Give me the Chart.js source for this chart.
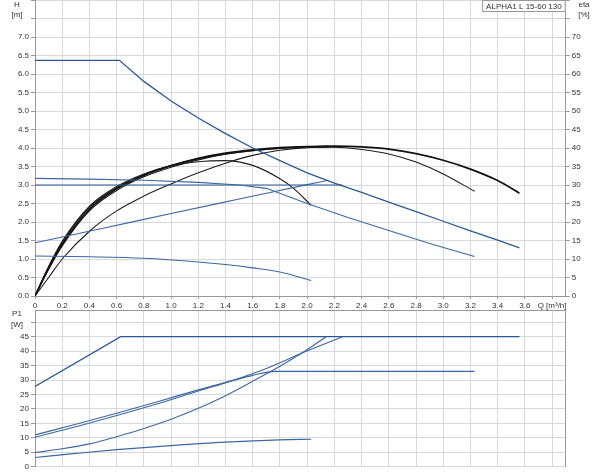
<!DOCTYPE html>
<html>
<head>
<meta charset="utf-8">
<script src="https://cdn.jsdelivr.net/npm/chart.js@4.4.1/dist/chart.umd.min.js"></script>
<style>
  html, body { margin: 0; padding: 0; background: #fff; }
  #wrap { position: relative; width: 600px; height: 474px; overflow: hidden; }
  #top { position: absolute; left: 0; top: 0; }
  #bot { position: absolute; left: 0; top: 300px; }
</style>
</head>
<body>
<div id="wrap">
  <canvas id="top" width="600" height="312" style="width:600px;height:312px"></canvas>
  <canvas id="bot" width="600" height="174" style="width:600px;height:174px"></canvas>
</div>
<script>
/* ── Data (Q in m³/h) ── */
const TITLE = 'ALPHA1 L 15-60 130';

// H [m] curves
const hMaxQ  = [0, 0.62, 0.8, 1.0, 1.2, 1.4, 1.6, 1.8, 2.0, 2.2, 2.4, 2.6, 2.8, 3.0, 3.2, 3.4, 3.56];
const hMaxH  = [6.37, 6.37, 5.80, 5.27, 4.81, 4.39, 4.00, 3.66, 3.33, 3.05, 2.80, 2.54, 2.28, 2.02, 1.76, 1.51, 1.30];
const h32Q   = [0, 0.4, 0.8, 1.2, 1.5, 1.7, 2.0, 2.3, 2.6, 2.9, 3.23];
const h32H   = [3.18, 3.16, 3.13, 3.07, 3.00, 2.91, 2.50, 2.12, 1.77, 1.42, 1.07];
const hCpQ   = [0, 2.26];
const hCpH   = [3.0, 3.0];
const hPpQ   = [0, 0.5, 1.0, 1.5, 2.0, 2.155];
const hPpH   = [1.44, 1.83, 2.23, 2.62, 3.01, 3.13];
const hLowQ  = [0, 0.4, 0.8, 1.2, 1.4, 1.6, 1.8, 2.03];
const hLowH  = [1.08, 1.06, 1.02, 0.92, 0.85, 0.76, 0.65, 0.42];

// eta [%] curves
const etaMaxQ = [0, 0.1, 0.2, 0.4, 0.6, 0.8, 1.0, 1.2, 1.4, 1.6, 1.8, 2.0, 2.2, 2.4, 2.6, 2.8, 3.0, 3.2, 3.4, 3.56];
const etaMax  = [0, 7.5, 14, 23.5, 29, 32.6, 35.2, 37.2, 38.6, 39.5, 40.1, 40.4, 40.5, 40.3, 39.7, 38.5, 36.7, 34.3, 31.2, 27.8];
const eta32Q  = [0, 0.1, 0.2, 0.4, 0.6, 0.8, 1.0, 1.2, 1.4, 1.6, 1.8, 2.0, 2.2, 2.4, 2.6, 2.8, 3.0, 3.23];
const eta32   = [0, 5, 10, 17.5, 23, 27, 30.3, 33.3, 35.9, 38.0, 39.4, 40.1, 40.2, 39.6, 38.4, 36.2, 33, 28.3];
const etaCpQ  = [0, 0.1, 0.2, 0.4, 0.6, 0.8, 1.0, 1.2, 1.4, 1.6, 1.8, 2.0, 2.26];
const etaCp   = [0, 7.2, 13.5, 23, 28.5, 32.2, 34.8, 36.8, 38.3, 39.3, 39.9, 40.3, 40.4];
const etaPpQ  = [0, 0.1, 0.2, 0.4, 0.6, 0.8, 1.0, 1.2, 1.4, 1.6, 1.8, 2.0, 2.155];
const etaPp   = [0, 7.8, 14.5, 24, 29.3, 32.8, 35.3, 37.1, 38.4, 39.3, 39.9, 40.3, 40.5];
const etaLowQ = [0, 0.1, 0.2, 0.4, 0.6, 0.8, 1.0, 1.2, 1.4, 1.6, 1.8, 1.9, 2.03];
const etaLow  = [0, 8, 14.8, 24.3, 29.6, 33, 35.2, 36.3, 36.6, 35.3, 31.7, 29.1, 24.5];

// P1 [W] curves
const pMaxQ = [0, 0.63, 3.56];
const pMax  = [27.8, 45, 45];
const p32Q  = [0, 0.3, 0.6, 0.9, 1.2, 1.45, 1.6, 1.76, 3.23];
const p32   = [11, 14.7, 18.5, 22.5, 26.6, 29.8, 31.6, 33, 33];
const pCpQ  = [0, 0.3, 0.6, 0.9, 1.2, 1.45, 1.7, 1.97, 2.26];
const pCp   = [10.2, 13.8, 17.7, 21.8, 26.2, 29.8, 34, 39.5, 45];
const pPpQ  = [0, 0.2, 0.4, 0.6, 0.8, 1.0, 1.2, 1.4, 1.6, 1.8, 1.97, 2.14];
const pPp   = [4.9, 6.2, 7.9, 10.4, 13.2, 16.4, 20.2, 24.6, 29.6, 34.8, 39.6, 45];
const pLowQ = [0, 0.3, 0.6, 1.0, 1.4, 1.8, 2.03];
const pLow  = [3.2, 4.6, 5.9, 7.3, 8.5, 9.3, 9.5];

/* ── Helpers ── */
const BLUE = '#3d67a3', BLUE_D = '#2c5894', BLACK = '#1e1e1e';
const FONT = { family: "'Liberation Sans', Arial, sans-serif", size: 8 };
const TXT = '#333';
const GRID = '#d6dadf';
const Q_MAX = 3.9;

function pts(xs, ys) { return xs.map((x, i) => ({ x, y: ys[i] })); }
function line(xs, ys, color, width, axis, smooth) {
  return {
    data: pts(xs, ys), borderColor: color, borderWidth: width, yAxisID: axis,
    pointRadius: 0, fill: false,
    tension: 0, cubicInterpolationMode: smooth ? 'monotone' : 'default'
  };
}
function qLabel(v) {
  if (Math.abs(v - 3.8) < 1e-6) return 'Q [m³/h]';
  if (Math.abs(v) < 1e-6) return '0';
  return v.toFixed(1);
}
function fixed(size, horiz) {
  return function(scale) {
    if (horiz) scale.height = size; else scale.width = size;
    scale.paddingTop = 0; scale.paddingBottom = 0;
    scale.paddingLeft = 0; scale.paddingRight = 0;
  };
}

const texts = {
  id: 'texts',
  afterDraw(chart, args, opts) {
    const ctx = chart.ctx;
    ctx.save();
    ctx.font = '8px "Liberation Sans", Arial, sans-serif';
    ctx.fillStyle = TXT;
    ctx.textAlign = 'center';
    ctx.textBaseline = 'middle';
    (opts.items || []).forEach(t => ctx.fillText(t[0], t[1], t[2]));
    if (opts.box) {
      const a = chart.chartArea;
      const w = ctx.measureText(TITLE).width + 8;
      ctx.fillStyle = '#fff';
      ctx.fillRect(a.right - w, a.top, w, 12);
      ctx.strokeStyle = '#999';
      ctx.lineWidth = 1;
      ctx.strokeRect(a.right - w + 0.5, a.top + 0.5, w - 1, 11);
      ctx.fillStyle = TXT;
      ctx.fillText(TITLE, a.right - w / 2, a.top + 6.5);
    }
    ctx.restore();
  }
};

/* ── Top chart: H and eta ── */
new Chart(document.getElementById('top'), {
  type: 'line',
  data: {
    datasets: [
      line(hMaxQ, hMaxH, BLUE_D, 1.3, 'h', false),
      line(h32Q, h32H, BLUE, 1.1, 'h', false),
      line(hCpQ, hCpH, BLUE_D, 1.2, 'h', false),
      line(hPpQ, hPpH, BLUE, 1.1, 'h', true),
      line(hLowQ, hLowH, BLUE, 1.1, 'h', true),
      line(etaMaxQ, etaMax, '#111', 1.7, 'eta', true),
      line(eta32Q, eta32, BLACK, 1.1, 'eta', true),
      line(etaCpQ, etaCp, BLACK, 1.1, 'eta', true),
      line(etaPpQ, etaPp, BLACK, 1.1, 'eta', true),
      line(etaLowQ, etaLow, BLACK, 1.1, 'eta', true)
    ]
  },
  options: {
    responsive: false, animation: false,
    layout: { padding: 0 },
    plugins: {
      legend: { display: false }, tooltip: { enabled: false },
      texts: { box: true, items: [['H', 17, 5], ['[m]', 17, 15], ['eta', 584, 5], ['[%]', 584, 15]] }
    },
    scales: {
      x: {
        type: 'linear', position: 'bottom', min: 0, max: Q_MAX,
        afterBuildTicks: s => { s.ticks = s.ticks.filter(t => t.value <= 3.85); },
        afterFit: fixed(16, true),
        ticks: { stepSize: 0.2, includeBounds: false, callback: qLabel, font: FONT, color: TXT, maxRotation: 0, autoSkip: false, padding: 2 },
        grid: { color: GRID, tickLength: 3, tickColor: '#999' },
        border: { color: '#999' }
      },
      h: {
        type: 'linear', position: 'left', min: 0, max: 8,
        afterFit: fixed(35, false),
        ticks: { stepSize: 0.5, font: FONT, color: TXT, padding: 2,
          callback: v => v > 7.01 ? '' : v.toFixed(1) },
        grid: { color: GRID, tickLength: 4, tickColor: '#999' },
        border: { color: '#999' }
      },
      eta: {
        type: 'linear', position: 'right', min: 0, max: 80,
        afterFit: fixed(600 - 565.7, false),
        ticks: { stepSize: 5, font: FONT, color: TXT, padding: 2,
          callback: v => v > 70.1 ? '' : String(v) },
        grid: { drawOnChartArea: false, tickLength: 4, tickColor: '#999' },
        border: { color: '#999' }
      }
    }
  },
  plugins: [texts]
});

/* ── Bottom chart: P1 ── */
new Chart(document.getElementById('bot'), {
  type: 'line',
  data: {
    datasets: [
      line(pMaxQ, pMax, BLUE_D, 1.3, 'p', false),
      line(p32Q, p32, BLUE, 1.1, 'p', true),
      line(pCpQ, pCp, BLUE, 1.1, 'p', true),
      line(pPpQ, pPp, BLUE, 1.1, 'p', true),
      line(pLowQ, pLow, BLUE, 1.1, 'p', true)
    ]
  },
  options: {
    responsive: false, animation: false,
    layout: { padding: { top: 10.7, bottom: 7.3 } },
    plugins: {
      legend: { display: false }, tooltip: { enabled: false },
      texts: { items: [['P1', 17, 14], ['[W]', 17, 25]] }
    },
    scales: {
      x: {
        type: 'linear', position: 'top', min: 0, max: Q_MAX,
        afterBuildTicks: s => { s.ticks = s.ticks.filter(t => t.value <= 3.85); },
        afterFit: fixed(0, true),
        ticks: { stepSize: 0.2, includeBounds: false, display: false },
        grid: { color: GRID, tickLength: 0 },
        border: { color: '#999' }
      },
      p: {
        type: 'linear', position: 'left', min: 0, max: 54,
        afterBuildTicks: s => { s.ticks = s.ticks.filter(t => t.value % 5 === 0); },
        afterFit: fixed(35, false),
        ticks: { stepSize: 5, includeBounds: false, font: FONT, color: TXT, padding: 2,
          callback: v => v > 45 ? '' : String(v) },
        grid: { color: GRID, tickLength: 4, tickColor: '#999' },
        border: { color: '#999' }
      },
      r: {
        type: 'linear', position: 'right', min: 0, max: 54,
        afterFit: fixed(600 - 565.7, false),
        ticks: { display: false },
        grid: { drawOnChartArea: false, tickLength: 0 },
        border: { color: '#999' }
      }
    }
  },
  plugins: [texts]
});
</script>
</body>
</html>
